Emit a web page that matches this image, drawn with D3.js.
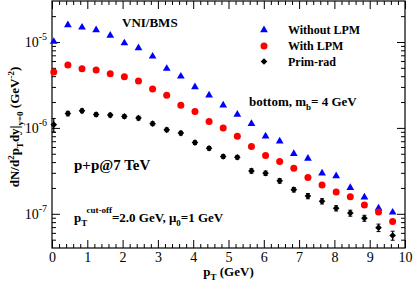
<!DOCTYPE html>
<html>
<head>
<meta charset="utf-8">
<script src="https://cdnjs.cloudflare.com/ajax/libs/d3/7.8.5/d3.min.js"></script>
<style>
  body { margin: 0; background: #fff; }
  text { font-family: "Liberation Serif", "Times New Roman", serif; }
</style>
</head>
<body>
<div id="chart"></div>
<script>
// pT bin centres (GeV)
var pt = [0.05, 0.45, 0.85, 1.25, 1.65, 2.05, 2.45, 2.85, 3.25, 3.65, 4.05, 4.45, 4.85,
          5.25, 5.65, 6.05, 6.45, 6.85, 7.25, 7.65, 8.05, 8.45, 8.85, 9.25, 9.65];

// series values
var withoutLPM = [1.01e-5, 1.58e-5, 1.48e-5, 1.38e-5, 1.19e-5, 9.7e-6, 8.5e-6, 6.8e-6, 4.9e-6,
                  3.98e-6, 3.0e-6, 2.4e-6, 1.84e-6, 1.43e-6, 1.12e-6, 8.0e-7, 7.0e-7, 5.0e-7,
                  4.4e-7, 2.97e-7, 2.75e-7, 2.01e-7, 1.56e-7, 1.16e-7, 1.04e-7];
var withLPM = [4.47e-6, 5.39e-6, 4.88e-6, 4.72e-6, 4.27e-6, 3.95e-6, 3.52e-6, 2.84e-6, 2.4e-6,
               1.84e-6, 1.55e-6, 1.19e-6, 1.0e-6, 8.0e-7, 6.06e-7, 4.77e-7, 4.06e-7, 3.4e-7,
               2.65e-7, 2.16e-7, 1.79e-7, 1.58e-7, 1.27e-7, 1.05e-7, 8.13e-8];
var primRad = [1.09e-6, 1.47e-6, 1.58e-6, 1.43e-6, 1.41e-6, 1.36e-6, 1.30e-6, 1.12e-6, 9.5e-7,
               8.7e-7, 6.74e-7, 5.79e-7, 4.64e-7, 4.55e-7, 3.16e-7, 2.97e-7, 2.42e-7, 1.91e-7,
               1.61e-7, 1.40e-7, 1.16e-7, 1.02e-7, 8.9e-8, 6.9e-8, 5.6e-8];
// relative statistical error on prim-rad
var primRadErr = [0.18, 0.06, 0.05, 0.05, 0.05, 0.05, 0.05, 0.05, 0.05, 0.05, 0.05, 0.05, 0.05,
                  0.05, 0.06, 0.06, 0.06, 0.06, 0.07, 0.07, 0.07, 0.08, 0.08, 0.1, 0.12];

// axis ticks
var xTicks = [0, 1, 2, 3, 4, 5, 6, 7, 8, 9, 10];
var yMajor = [1e-7, 1e-6, 1e-5];
var yMajorLabel = ["-7", "-6", "-5"];

var legendNames = ["Without LPM", "With LPM", "Prim-rad"];

var margin = {top: 1, right: 9, bottom: 36, left: 52},
    W = 414, H = 284,
    width = W - margin.left - margin.right,
    height = H - margin.top - margin.bottom;

var serif = '"Liberation Serif", "Times New Roman", serif';

var svg = d3.select("#chart").append("svg")
    .attr("width", W)
    .attr("height", H)
    .append("g")
    .attr("transform", "translate(" + margin.left + "," + margin.top + ")");

var x = d3.scaleLinear().domain([0, 10]).range([0, width]);
var y = d3.scaleLog().domain([4e-8, 3e-5]).range([height, 0]);

// minor ticks
var xMinor = d3.range(0, 10.001, 0.2).filter(function(v) { return Math.abs(v - Math.round(v)) > 1e-6; });
var yMinor = [];
[-8, -7, -6, -5].forEach(function(e) {
    for (var m = 2; m <= 9; m++) {
        var v = m * Math.pow(10, e);
        if (v > 4e-8 && v < 3e-5) yMinor.push(v);
    }
});

function styleAxis(g) {
    g.attr("font-family", serif);
    g.select(".domain").remove();
    g.selectAll("line").attr("stroke", "#000").attr("stroke-width", 1);
}

var majLen = 8, minLen = 4;

// bottom / top
svg.append("g").attr("transform", "translate(0," + height + ")")
    .call(d3.axisBottom(x).tickValues(xTicks).tickSize(-majLen).tickPadding(4).tickFormat(d3.format("d")))
    .call(styleAxis)
    .selectAll("text").attr("font-size", 14).attr("fill", "#000");
svg.append("g").attr("transform", "translate(0," + height + ")")
    .call(d3.axisBottom(x).tickValues(xMinor).tickSize(-minLen).tickFormat(""))
    .call(styleAxis);
svg.append("g")
    .call(d3.axisTop(x).tickValues(xTicks).tickSize(-majLen).tickFormat(""))
    .call(styleAxis);
svg.append("g")
    .call(d3.axisTop(x).tickValues(xMinor).tickSize(-minLen).tickFormat(""))
    .call(styleAxis);

// left / right
svg.append("g")
    .call(d3.axisLeft(y).tickValues(yMajor).tickSize(-majLen).tickFormat(""))
    .call(styleAxis);
svg.append("g")
    .call(d3.axisLeft(y).tickValues(yMinor).tickSize(-minLen).tickFormat(""))
    .call(styleAxis);
svg.append("g").attr("transform", "translate(" + width + ",0)")
    .call(d3.axisRight(y).tickValues(yMajor).tickSize(-majLen).tickFormat(""))
    .call(styleAxis);
svg.append("g").attr("transform", "translate(" + width + ",0)")
    .call(d3.axisRight(y).tickValues(yMinor).tickSize(-minLen).tickFormat(""))
    .call(styleAxis);

// y tick labels 10^n
yMajor.forEach(function(v, i) {
    var t = svg.append("text")
        .attr("x", -5)
        .attr("y", y(v) + 5)
        .attr("text-anchor", "end")
        .attr("font-size", 14);
    t.append("tspan").text("10");
    t.append("tspan").attr("dy", -7).attr("font-size", 10).text(yMajorLabel[i]);
});

// frame
svg.append("rect")
    .attr("width", width).attr("height", height)
    .attr("fill", "none").attr("stroke", "#000").attr("stroke-width", 1.2);

// data
var tri = d3.symbol().type(d3.symbolTriangle).size(26);
var dia = d3.symbol().type(d3.symbolSquare).size(22);

svg.selectAll(".blue").data(pt).enter().append("path")
    .attr("d", tri)
    .attr("fill", "#0000ff")
    .attr("transform", function(d, i) { return "translate(" + x(d) + "," + y(withoutLPM[i]) + ")"; });

svg.selectAll(".red").data(pt).enter().append("circle")
    .attr("cx", function(d) { return x(d); })
    .attr("cy", function(d, i) { return y(withLPM[i]); })
    .attr("r", 3.5)
    .attr("fill", "#ff0000");

var blk = svg.selectAll(".blk").data(pt).enter().append("g")
    .attr("transform", function(d, i) { return "translate(" + x(d) + ",0)"; });
blk.append("line")
    .attr("y1", function(d, i) { return y(primRad[i] * (1 + primRadErr[i])); })
    .attr("y2", function(d, i) { return y(primRad[i] * (1 - primRadErr[i])); })
    .attr("stroke", "#000").attr("stroke-width", 1.2);
blk.append("line").attr("x1", -2).attr("x2", 2)
    .attr("y1", function(d, i) { return y(primRad[i] * (1 + primRadErr[i])); })
    .attr("y2", function(d, i) { return y(primRad[i] * (1 + primRadErr[i])); })
    .attr("stroke", "#000");
blk.append("line").attr("x1", -2).attr("x2", 2)
    .attr("y1", function(d, i) { return y(primRad[i] * (1 - primRadErr[i])); })
    .attr("y2", function(d, i) { return y(primRad[i] * (1 - primRadErr[i])); })
    .attr("stroke", "#000");
blk.append("path")
    .attr("d", dia)
    .attr("fill", "#000")
    .attr("transform", function(d, i) { return "translate(0," + y(primRad[i]) + ") rotate(45)"; });

// legend
var lg = svg.append("g").attr("transform", "translate(" + (264 - margin.left) + "," + (30 - margin.top) + ")");
lg.append("path").attr("d", tri).attr("fill", "#0000ff");
lg.append("circle").attr("cy", 16).attr("r", 3.5).attr("fill", "#ff0000");
lg.append("path").attr("d", dia).attr("fill", "#000").attr("transform", "translate(0,31.5) rotate(45)");
legendNames.forEach(function(n, i) {
    lg.append("text").attr("x", 24).attr("y", 4 + i * 15.8)
        .attr("font-size", 12).attr("font-weight", "bold").text(n);
});

// annotations
function txt(px, py, size) {
    return svg.append("text")
        .attr("x", px - margin.left).attr("y", py - margin.top)
        .attr("font-size", size).attr("font-weight", "bold");
}
txt(122, 27, 13).text("VNI/BMS");

var t1 = txt(249, 106, 13);
t1.append("tspan").text("bottom, m");
t1.append("tspan").attr("dy", 4).attr("font-size", 9).text("b");
t1.append("tspan").attr("dy", -4).text("= 4 GeV");

txt(74, 170, 15).text("p+p@7 TeV");

var t2 = txt(74, 222, 13);
t2.append("tspan").text("p");
t2.append("tspan").attr("dy", 4).attr("font-size", 9).text("T");
t2.append("tspan").attr("dy", -13).attr("font-size", 9).text("cut-off");
t2.append("tspan").attr("dy", 9).text("=2.0 GeV, \u03bc");
t2.append("tspan").attr("dy", 4).attr("font-size", 9).text("0");
t2.append("tspan").attr("dy", -4).text("=1 GeV");

// x axis title
var xt = svg.append("text")
    .attr("x", width / 2).attr("y", 276 - margin.top)
    .attr("text-anchor", "middle")
    .attr("font-size", 13).attr("font-weight", "bold");
xt.append("tspan").text("p");
xt.append("tspan").attr("dy", 4).attr("font-size", 9).text("T");
xt.append("tspan").attr("dy", -4).text(" (GeV)");

// y axis title
var yt = svg.append("text")
    .attr("transform", "translate(" + (19 - margin.left) + "," + (127 - margin.top) + ") rotate(-90)")
    .attr("text-anchor", "middle")
    .attr("font-size", 13).attr("font-weight", "bold");
yt.append("tspan").text("dN/d");
yt.append("tspan").attr("dy", -5).attr("font-size", 9).text("2");
yt.append("tspan").attr("dy", 5).text("p");
yt.append("tspan").attr("dy", 4).attr("font-size", 9).text("T");
yt.append("tspan").attr("dy", -4).text("dy|");
yt.append("tspan").attr("dy", 4).attr("font-size", 9).text("y=0");
yt.append("tspan").attr("dy", -4).text(" (GeV");
yt.append("tspan").attr("dy", -5).attr("font-size", 9).text("-2");
yt.append("tspan").attr("dy", 5).text(")");
</script>
</body>
</html>
